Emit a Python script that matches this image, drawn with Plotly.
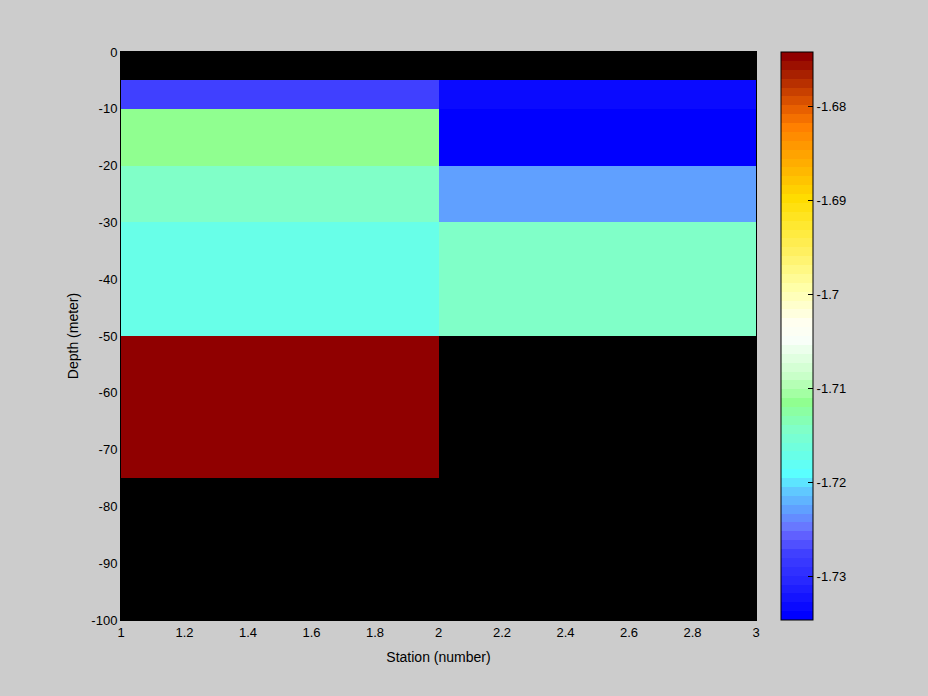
import numpy as np
import plotly.graph_objects as go

# ---- data ----
station_edges = [1, 2, 3]
depth_edges = [0, -5, -10, -20, -30, -50, -75, -100]
# values per depth layer (top to bottom), NaN = no data
station1_vals = [np.nan, -1.7275, -1.7114, -1.7143, -1.7171, -1.6742, np.nan]
station2_vals = [np.nan, -1.7333, -1.7346, -1.7228, -1.7143, np.nan, np.nan]
x_ticks = [1, 1.2, 1.4, 1.6, 1.8, 2, 2.2, 2.4, 2.6, 2.8, 3]
x_ticklabels = ["1", "1.2", "1.4", "1.6", "1.8", "2", "2.2", "2.4", "2.6", "2.8", "3"]
y_ticks = [0, -10, -20, -30, -40, -50, -60, -70, -80, -90, -100]
y_ticklabels = ["0", "-10", "-20", "-30", "-40", "-50", "-60", "-70", "-80", "-90", "-100"]
cb_ticks = [-1.68, -1.69, -1.70, -1.71, -1.72, -1.73]
cb_ticklabels = ["-1.68", "-1.69", "-1.7", "-1.71", "-1.72", "-1.73"]
zmin, zmax = -1.7346, -1.6742

# ---- colormap (64 discrete levels) ----
anchors = [
    (0, "#0000ff"), (4, "#2828ff"), (7, "#4040ff"), (9, "#6060ff"), (10, "#6878ff"),
    (12, "#60a0ff"), (14, "#60c8ff"), (16, "#5affff"), (18, "#68ffe8"), (21, "#80ffc8"),
    (24, "#90ff90"), (27, "#c8ffc8"), (31, "#f8fff8"), (33, "#fffff0"), (37, "#ffffa8"),
    (41, "#fff060"), (44, "#ffe830"), (47, "#ffdc00"), (50, "#ffb800"), (53, "#ff9800"),
    (55, "#ff8000"), (57, "#e86000"), (59, "#c84000"), (61, "#a82000"), (63, "#900000"),
]

def hex2rgb(h):
    h = h.lstrip("#")
    return [int(h[i:i + 2], 16) for i in (0, 2, 4)]

levels = []
for i in range(64):
    for (a, ca), (b, cb) in zip(anchors[:-1], anchors[1:]):
        if a <= i <= b:
            t = (i - a) / (b - a)
            r1, r2 = hex2rgb(ca), hex2rgb(cb)
            c = [round(r1[k] + t * (r2[k] - r1[k])) for k in range(3)]
            levels.append("rgb(%d,%d,%d)" % tuple(c))
            break
colorscale = []
for i, c in enumerate(levels):
    colorscale.append([i / 64, c])
    colorscale.append([(i + 1) / 64, c])

FONT = "Liberation Sans, Arial, sans-serif"

# build z with increasing y
y_inc = depth_edges[::-1]
z = [[s1, s2] for s1, s2 in zip(station1_vals, station2_vals)][::-1]

fig = go.Figure(go.Heatmap(
    x=station_edges, y=y_inc, z=z,
    zmin=zmin, zmax=zmax, colorscale=colorscale,
    colorbar=dict(
        thickness=32, thicknessmode="pixels", len=1, lenmode="fraction",
        x=(781 - 121) / 635, xanchor="left", y=0.5, yanchor="middle",
        outlinewidth=1, outlinecolor="black",
        tickvals=cb_ticks, ticktext=cb_ticklabels,
        ticks="inside", ticklen=5, tickcolor="black",
        tickfont=dict(family=FONT, size=13, color="black"),
        xpad=0, ypad=0,
    ),
    hoverongaps=False,
))

fig.update_layout(
    width=928, height=696,
    paper_bgcolor="#cccccc", plot_bgcolor="black",
    margin=dict(l=121, r=172, t=52, b=76),
    font=dict(family=FONT, size=12, color="black"),
    xaxis=dict(
        range=[1, 3], tickvals=x_ticks, ticktext=x_ticklabels,
        showgrid=False, zeroline=False, showline=True, linecolor="black",
        mirror=True, ticks="", tickfont=dict(size=13),
        title=dict(text="Station (number)", standoff=13),
    ),
    yaxis=dict(
        range=[-100, 0], tickvals=y_ticks, ticktext=y_ticklabels,
        showgrid=False, zeroline=False, showline=True, linecolor="black",
        mirror=True, ticks="", tickfont=dict(size=13),
        title=dict(text="Depth (meter)", standoff=9),
    ),
)

fig.write_html(
    "out.html",
    config={"displayModeBar": False},
    post_script="document.body.style.margin='0px';document.body.style.background='#cccccc';",
)
